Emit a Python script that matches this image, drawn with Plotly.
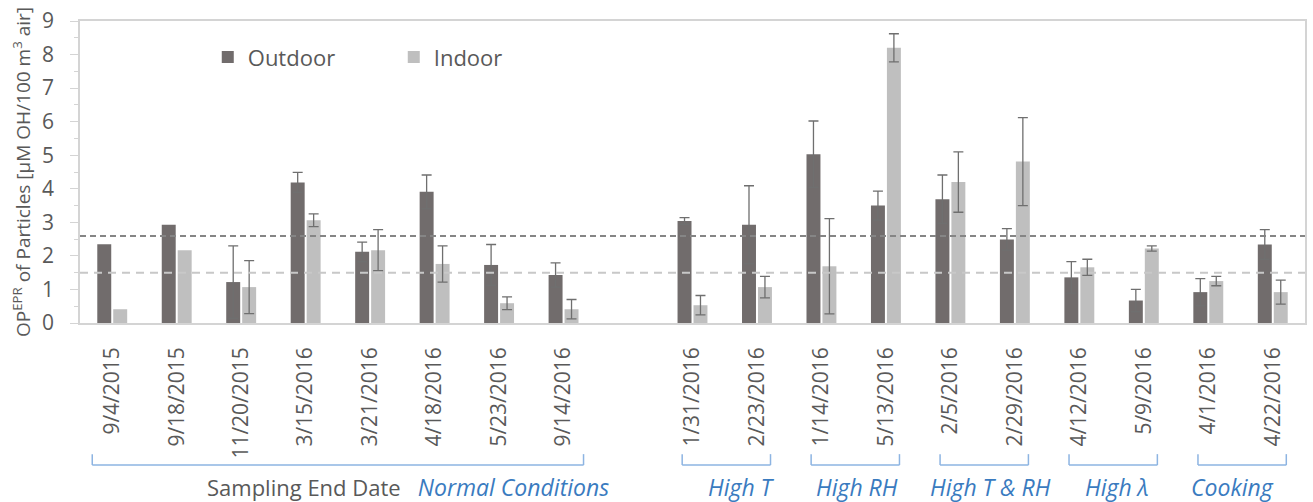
import numpy as np
import plotly.graph_objects as go

# ---------------- data ----------------
normal_dates = ["9/4/2015", "9/18/2015", "11/20/2015", "3/15/2016", "3/21/2016",
                "4/18/2016", "5/23/2016", "9/14/2016"]
special_dates = ["1/31/2016", "2/23/2016", "1/14/2016", "5/13/2016", "2/5/2016",
                 "2/29/2016", "4/12/2016", "5/9/2016", "4/1/2016", "4/22/2016"]
spacer = " "

outdoor_normal = [2.35, 2.93, 1.22, 4.19, 2.12, 3.91, 1.73, 1.43]
indoor_normal = [0.41, 2.17, 1.07, 3.06, 2.17, 1.76, 0.59, 0.41]
outdoor_normal_err = [None, None, 1.08, 0.30, 0.29, 0.50, 0.61, 0.36]
indoor_normal_err = [None, None, 0.79, 0.19, 0.61, 0.54, 0.19, 0.29]

outdoor_special = [3.04, 2.93, 5.03, 3.50, 3.69, 2.49, 1.36, 0.67, 0.92, 2.34]
indoor_special = [0.53, 1.07, 1.69, 8.20, 4.20, 4.81, 1.66, 2.22, 1.25, 0.92]
outdoor_special_err = [0.10, 1.16, 0.99, 0.43, 0.72, 0.32, 0.47, 0.33, 0.40, 0.44]
indoor_special_err = [0.29, 0.32, 1.42, 0.42, 0.90, 1.31, 0.24, 0.08, 0.14, 0.36]

outdoor_ref = 2.59
indoor_ref = 1.50

condition_groups = ["High T", "High RH", "High T & RH", "High λ", "Cooking"]
normal_group = "Normal Conditions"
axis_caption = "Sampling End Date"

# ---------------- styles ----------------
FONT = "Open Sans"
TXT = "#595959"
AXC = "#d4d4d4"
BLUE_TXT = "#3a7bbf"
BLUE_LINE = "#8db4e2"
C_OUT = "#716c6c"
C_IN = "#bfbfbf"
C_ERR = "#6f6f6f"

categories = normal_dates + [spacer] + special_dates
out_y = outdoor_normal + [None] + outdoor_special
in_y = indoor_normal + [None] + indoor_special


def err_array(vals):
    # missing error values -> NaN so that no error bar / cap is drawn
    return np.array([np.nan if v is None else v for v in vals], dtype=float)


out_e = err_array(outdoor_normal_err + [None] + outdoor_special_err)
in_e = err_array(indoor_normal_err + [None] + indoor_special_err)

fig = go.Figure()
fig.add_trace(go.Bar(
    x=categories, y=out_y, name="Outdoor", marker=dict(color=C_OUT, line=dict(width=0)),
    error_y=dict(type="data", array=out_e, symmetric=True, color=C_ERR, thickness=1.3, width=5),
))
fig.add_trace(go.Bar(
    x=categories, y=in_y, name="Indoor", marker=dict(color=C_IN, line=dict(width=0)),
    error_y=dict(type="data", array=in_e, symmetric=True, color=C_ERR, thickness=1.3, width=5),
))

# reference dashed lines
fig.add_shape(type="line", xref="paper", yref="y", x0=0, x1=1, y0=outdoor_ref, y1=outdoor_ref,
              line=dict(color="#858585", width=2, dash="6px,4px"), layer="above")
fig.add_shape(type="line", xref="paper", yref="y", x0=0, x1=1, y0=indoor_ref, y1=indoor_ref,
              line=dict(color="#c8c8c8", width=2, dash="8px,6px"), layer="above")

# brackets below the axis
PLOT_TOP, PLOT_BOT = 19, 323


def py(p):
    return (PLOT_BOT - p) / (PLOT_BOT - PLOT_TOP)


y_top, y_bot, y_lab = py(455), py(466), py(488)


def bracket(c0, c1):
    ln = dict(color=BLUE_LINE, width=1.5)
    fig.add_shape(type="line", xref="x", yref="paper", x0=c0, x1=c1, y0=y_bot, y1=y_bot, line=ln)
    fig.add_shape(type="line", xref="x", yref="paper", x0=c0, x1=c0, y0=y_bot, y1=y_top, line=ln)
    fig.add_shape(type="line", xref="x", yref="paper", x0=c1, x1=c1, y0=y_bot, y1=y_top, line=ln)


n_norm = len(normal_dates)
bracket(-0.31, n_norm - 1 + 0.31)
fig.add_annotation(
    x=(n_norm - 1) / 2 + 1.09, y=y_lab, xref="x", yref="paper", showarrow=False,
    text=f"{axis_caption}   <i><span style='color:{BLUE_TXT};font-size:23px'>{normal_group}</span></i>",
    font=dict(family=FONT, size=22, color=TXT), xanchor="center", yanchor="middle",
)
first_special = n_norm + 1
label_shift = [0.26, 0.05, 0.12, 0.08, -0.12]
for i, name in enumerate(condition_groups):
    c0 = first_special + 2 * i
    c1 = c0 + 1
    bracket(c0 - 0.16, c1 + 0.21)
    fig.add_annotation(
        x=(c0 + c1) / 2 + label_shift[i], y=y_lab, xref="x", yref="paper", showarrow=False,
        text=f"<i>{name}</i>", font=dict(family=FONT, size=23, color=BLUE_TXT),
        xanchor="center", yanchor="middle",
    )

fig.update_layout(
    width=1313, height=502, autosize=False,
    margin=dict(l=80, r=6, t=PLOT_TOP, b=502 - PLOT_BOT),
    paper_bgcolor="white", plot_bgcolor="white",
    barmode="group", bargap=0.505, bargroupgap=0.125,
    font=dict(family=FONT, color=TXT),
    showlegend=True,
    legend=dict(orientation="h", x=0.1043, y=0.88, xanchor="left", yanchor="middle",
                font=dict(family=FONT, size=22, color=TXT), bgcolor="rgba(0,0,0,0)",
                entrywidth=141, entrywidthmode="pixels", itemwidth=30),
    xaxis=dict(type="category", categoryorder="array", categoryarray=categories,
               range=[-0.5, len(categories) - 0.5], showline=True, linecolor=AXC, linewidth=1.5,
               mirror=True, ticks="", showgrid=False, zeroline=False, tickangle=-90,
               tickfont=dict(family=FONT, size=21, color=TXT), ticklabelstandoff=14),
    yaxis=dict(range=[0, 9], dtick=1, tick0=0, showline=True, linecolor=AXC, linewidth=1.5,
               mirror=True, ticks="outside", ticklen=8, tickcolor=AXC, tickwidth=1.2,
               minor=dict(dtick=0.5, ticks="outside", ticklen=4, tickcolor=AXC),
               showgrid=False, zeroline=False, ticklabelstandoff=12,
               tickfont=dict(family=FONT, size=21, color=TXT),
               title=dict(text="OP<sup>EPR</sup> of Particles [μM OH/100 m<sup>3</sup> air]",
                          font=dict(family=FONT, size=19, color=TXT), standoff=6)),
)

fig.write_html("out.html")
